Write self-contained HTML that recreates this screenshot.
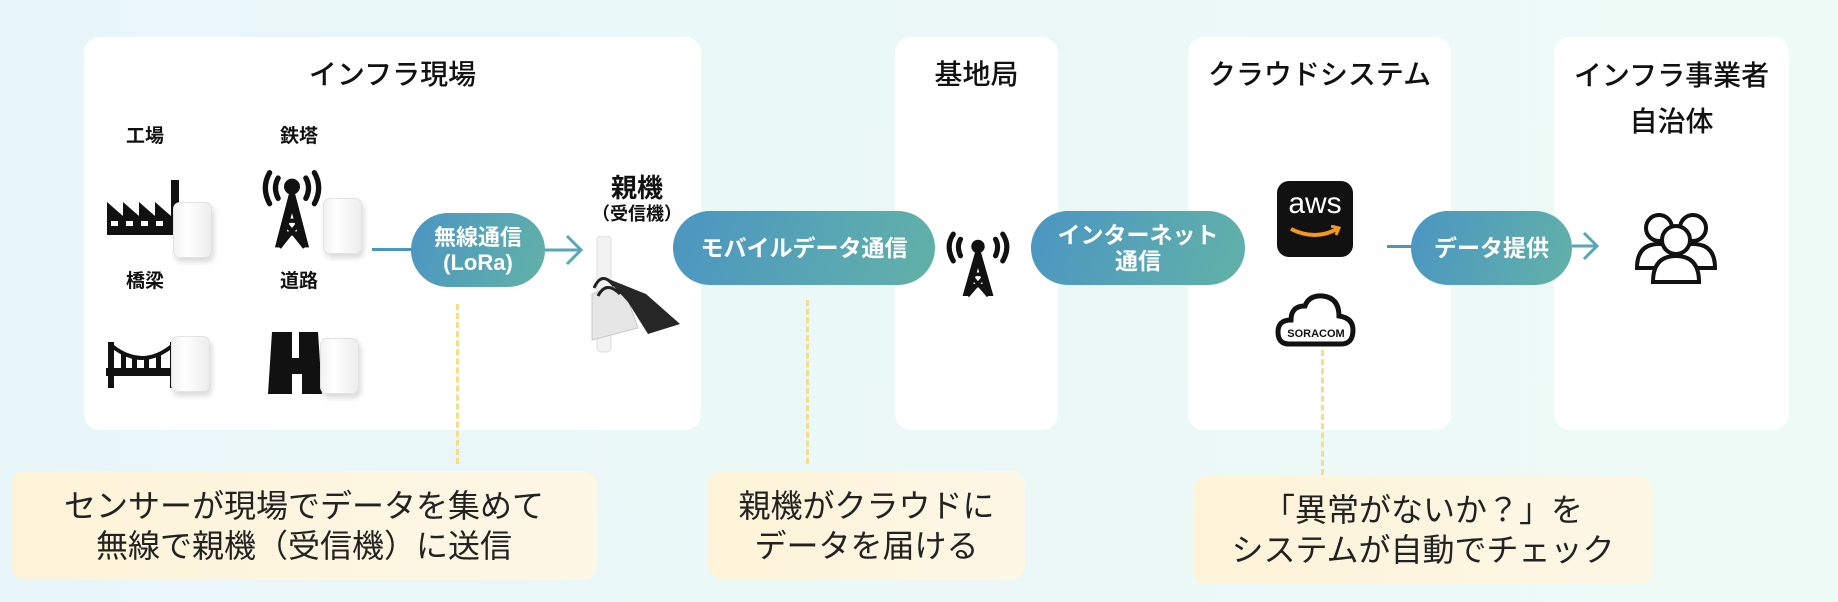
<!DOCTYPE html>
<html><head><meta charset="utf-8"><style>
*{margin:0;padding:0;box-sizing:border-box}
body{width:1838px;height:602px;overflow:hidden;background:linear-gradient(90deg,#e9f6f9,#eefaf6);font-family:"Liberation Sans","Noto Sans CJK JP",sans-serif;color:#111;position:relative}
.a{position:absolute}
.panel{position:absolute;background:#fff;border-radius:16px;top:37px;height:393px}
.title{position:absolute;width:100%;text-align:center;font-size:28px;font-weight:500;color:#111}
.pill{position:absolute;border-radius:40px;background:linear-gradient(110deg,#4b95c2,#62b2a7);color:#fff;font-weight:700;text-align:center;display:flex;align-items:center;justify-content:center;line-height:1.15}
.note{position:absolute;background:linear-gradient(90deg,#fdf3d8,#fdf7e6);border-radius:14px;font-size:32px;text-align:center;line-height:40px;color:#222;display:flex;align-items:center;justify-content:center}
.lbl{position:absolute;font-size:19px;font-weight:700}
.sensor{position:absolute;width:39px;height:56px;background:linear-gradient(90deg,#f2f2f2,#fff 35%,#ededed);border:1px solid #e2e2e2;border-radius:7px;box-shadow:2px 4px 6px rgba(0,0,0,.15)}
.dash{position:absolute;width:0;border-left:3px dashed #f6dd8a}
</style></head><body>
<div class="panel" style="left:84px;width:617px"><div class="title" style="top:16px">インフラ現場</div></div>
<div class="panel" style="left:895px;width:163px"><div class="title" style="top:16px">基地局</div></div>
<div class="panel" style="left:1188px;width:263px"><div class="title" style="top:16px">クラウドシステム</div></div>
<div class="panel" style="left:1554px;width:235px"><div class="title" style="top:16px;line-height:46px">インフラ事業者<br>自治体</div></div>

<div class="lbl" style="left:126px;top:121px">工場</div>
<div class="lbl" style="left:280px;top:121px">鉄塔</div>
<div class="lbl" style="left:126px;top:266px">橋梁</div>
<div class="lbl" style="left:280px;top:266px">道路</div>

<svg class="a" style="left:105px;top:178px" width="82" height="60" viewBox="0 0 82 60"><path d="M2,57 L2,24 L18,38 L18,24 L34,38 L34,24 L50,38 L50,24 L66,38 L66,2 L74,2 L74,57Z" fill="#111"/><g fill="#fff"><rect x="6" y="43" width="7" height="5"/><rect x="21" y="43" width="7" height="5"/><rect x="36" y="43" width="7" height="5"/><rect x="51" y="43" width="7" height="5"/></g></svg>
<svg class="a" style="left:260px;top:167px" width="64" height="84" viewBox="0 0 60 76"><g fill="none" stroke="#111" stroke-width="5" stroke-linecap="round"><path d="M9,4 Q1,18 9,33"/><path d="M17,9 Q12,18 17,28"/><path d="M51,4 Q59,18 51,33"/><path d="M43,9 Q48,18 43,28"/></g><circle cx="30" cy="17" r="7.5" fill="#111"/><path d="M27,24 L33,24 L46,74 L39,74 L30,42 L21,74 L14,74Z" fill="#111"/><path d="M22,49 L38,49 M19,61 L41,61 M22,49 L42,74 M38,49 L18,74" stroke="#111" stroke-width="4"/></svg>
<svg class="a" style="left:106px;top:340px" width="74" height="50" viewBox="0 0 74 50"><g fill="#111"><rect x="0" y="28" width="74" height="8"/><rect x="2" y="2" width="6" height="46"/><rect x="64" y="2" width="6" height="46"/><rect x="15" y="14" width="5" height="14"/><rect x="26" y="18" width="5" height="10"/><rect x="38" y="18" width="5" height="10"/><rect x="50" y="14" width="5" height="14"/></g><path d="M6,6 Q36,30 66,6" stroke="#111" stroke-width="4" fill="none"/></svg>
<svg class="a" style="left:266px;top:330px" width="58" height="66" viewBox="0 0 58 66"><path d="M6,2 L26,2 L26,28 L33,28 L33,2 L52,2 L56,64 L36,64 L36,44 L26,44 L26,64 L2,64Z" fill="#111"/></svg>
<div class="sensor" style="left:173px;top:202px"></div>
<div class="sensor" style="left:323px;top:198px"></div>
<div class="sensor" style="left:171px;top:336px"></div>
<div class="sensor" style="left:320px;top:338px"></div>

<div class="a" style="left:372px;top:248px;width:40px;height:3px;background:#4b95c2"></div>
<div class="pill" style="left:411px;top:213px;width:134px;height:74px;font-size:22px">無線通信<br>(LoRa)</div>
<svg class="a" style="left:545px;top:232px" width="40" height="36"><path d="M0,18 L36,18 M22,4 L36,18 L22,32" stroke="#58a7b6" stroke-width="3" fill="none"/></svg>

<div class="a" style="left:597px;top:168px;width:80px;text-align:center;font-size:26px;font-weight:700">親機</div>
<div class="a" style="left:582px;top:200px;width:110px;text-align:center;font-size:18px;font-weight:700">（受信機）</div>
<svg class="a" style="left:588px;top:236px" width="100" height="118"><rect x="9" y="0" width="14" height="116" rx="4" fill="#f2f2f2" stroke="#ddd"/><path d="M4,58 L34,48 L50,92 L4,104Z" fill="#e6e6e6" stroke="#c8c8c8"/><path d="M18,42 L58,58 L92,88 L60,98 L40,66Z" fill="#262626"/><path d="M6,52 Q14,34 26,50 M10,60 Q18,44 32,58" stroke="#222" stroke-width="3" fill="none"/></svg>

<div class="pill" style="left:673px;top:211px;width:262px;height:74px;font-size:23px">モバイルデータ通信</div>
<svg class="a" style="left:944px;top:230px" width="68" height="68" viewBox="0 0 64 66"><g fill="none" stroke="#111" stroke-width="5" stroke-linecap="round"><path d="M8,4 Q0,16 8,30"/><path d="M15,9 Q11,16 15,25"/><path d="M56,4 Q64,16 56,30"/><path d="M49,9 Q53,16 49,25"/></g><circle cx="32" cy="16" r="6.5" fill="#111"/><path d="M29,22 L35,22 L47,64 L40,64 L32,37 L24,64 L17,64Z" fill="#111"/><path d="M24,43 L40,43 M22,54 L42,54 M24,43 L42,64 M40,43 L22,64" stroke="#111" stroke-width="3.5"/></svg>
<div class="pill" style="left:1031px;top:211px;width:214px;height:74px;font-size:23px">インターネット<br>通信</div>

<div class="a" style="left:1277px;top:181px;width:76px;height:76px;background:#111;border-radius:12px;color:#fff;text-align:center;font-size:30px;font-weight:500;line-height:46px">aws<svg style="position:absolute;left:12px;top:44px" width="54" height="16"><path d="M2,4 Q26,16 48,4" stroke="#f39a1e" stroke-width="4" fill="none"/><path d="M42,1 L50,3 L47,10" stroke="#f39a1e" stroke-width="3" fill="none"/></svg></div>
<svg class="a" style="left:1275px;top:292px" width="82" height="60"><path d="M14,52 Q3,52 3,40 Q3,28 16,28 Q16,14 30,14 Q34,3 48,4 Q64,6 64,24 Q78,26 78,38 Q78,52 66,52Z" fill="#fff" stroke="#111" stroke-width="5"/><text x="41" y="45" text-anchor="middle" font-size="11" font-weight="700" font-family="Liberation Sans,sans-serif" fill="#111">SORACOM</text></svg>

<div class="a" style="left:1387px;top:245px;width:26px;height:3px;background:#4b95c2"></div>
<div class="pill" style="left:1411px;top:211px;width:161px;height:74px;font-size:23px">データ提供</div>
<svg class="a" style="left:1572px;top:229px" width="30" height="36"><path d="M0,17 L24,17 M12,4 L25,17 L12,30" stroke="#58a7b6" stroke-width="3" fill="none"/></svg>

<svg class="a" style="left:1633px;top:210px" width="88" height="76"><g fill="#fff" stroke="#111" stroke-width="4"><circle cx="26" cy="18" r="13"/><circle cx="60" cy="18" r="13"/><path d="M4,58 Q4,34 26,34 Q48,34 48,58Z"/><path d="M38,58 Q38,34 60,34 Q82,34 82,58Z"/><circle cx="43" cy="30" r="14"/><path d="M20,72 Q20,46 43,46 Q66,46 66,72Z"/></g></svg>

<div class="dash" style="left:456px;top:304px;height:160px"></div>
<div class="dash" style="left:806px;top:300px;height:164px"></div>
<div class="dash" style="left:1321px;top:350px;height:125px"></div>

<div class="note" style="left:11px;top:471px;width:586px;height:109px">センサーが現場でデータを集めて<br>無線で親機（受信機）に送信</div>
<div class="note" style="left:708px;top:471px;width:317px;height:109px">親機がクラウドに<br>データを届ける</div>
<div class="note" style="left:1193px;top:476px;width:460px;height:108px">「異常がないか？」を<br>システムが自動でチェック</div>
</body></html>
